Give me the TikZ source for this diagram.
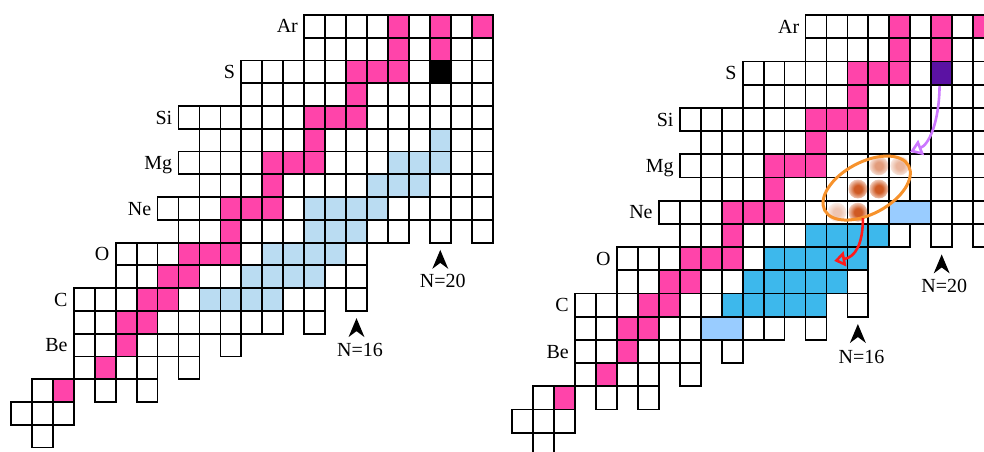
\documentclass[tikz,border=0pt]{standalone}
\usepackage{fontspec}
\setmainfont{Liberation Serif}
\usetikzlibrary{arrows.meta,fadings}
\definecolor{pinkc}{HTML}{FF44AA}
\definecolor{paleblue}{HTML}{BADCF2}
\definecolor{brightblue}{HTML}{3DB8EC}
\definecolor{lightblue}{HTML}{99CCFF}
\definecolor{violetc}{HTML}{5B12A3}
\definecolor{arrowviolet}{HTML}{CC77FF}
\definecolor{redc}{HTML}{FF1A1A}
\definecolor{orangec}{HTML}{F7922C}
\definecolor{dotc}{HTML}{CF5A24}
\pgfdeclareradialshading{fuzzyshade}{\pgfpointorigin}{color(0bp)=(white); color(10bp)=(white); color(32bp)=(black); color(50bp)=(black)}
\pgfdeclarefading{fuzzy}{\pgfuseshading{fuzzyshade}}

% #1 = Z, #2 = list of N, #3 = style
\newcommand\cellrow[3]{\foreach \n in {#2}{\path[#3] (\n,18-#1) rectangle ++(1,1);}}

\newcommand\chartbase{%
  \cellrow{18}{14,...,22}{cellw}
  \cellrow{17}{14,...,22}{cellw}
  \cellrow{16}{11,...,22}{cellw}
  \cellrow{15}{11,...,22}{cellw}
  \cellrow{14}{8,...,22}{cellw}
  \cellrow{13}{9,...,22}{cellw}
  \cellrow{12}{8,...,22}{cellw}
  \cellrow{11}{9,...,22}{cellw}
  \cellrow{10}{7,...,22}{cellw}
  \cellrow{9}{8,...,18,20,22}{cellw}
  \cellrow{8}{5,...,16}{cellw}
  \cellrow{7}{5,...,16}{cellw}
  \cellrow{6}{3,...,14,16}{cellw}
  \cellrow{5}{3,...,12,14}{cellw}
  \cellrow{4}{3,...,8,10}{cellw}
  \cellrow{3}{3,...,6,8}{cellw}
  \cellrow{2}{1,2,4,6}{cellw}
  \cellrow{1}{0,1,2}{cellw}
  \cellrow{0}{1}{cellw}
  % stable (pink)
  \cellrow{18}{18,20,22}{cellp}
  \cellrow{17}{18,20}{cellp}
  \cellrow{16}{16,17,18}{cellp}
  \cellrow{15}{16}{cellp}
  \cellrow{14}{14,15,16}{cellp}
  \cellrow{13}{14}{cellp}
  \cellrow{12}{12,13,14}{cellp}
  \cellrow{11}{12}{cellp}
  \cellrow{10}{10,11,12}{cellp}
  \cellrow{9}{10}{cellp}
  \cellrow{8}{8,9,10}{cellp}
  \cellrow{7}{7,8}{cellp}
  \cellrow{6}{6,7}{cellp}
  \cellrow{5}{5,6}{cellp}
  \cellrow{4}{5}{cellp}
  \cellrow{3}{4}{cellp}
  \cellrow{2}{2}{cellp}
}

% #1 = name prefix
\newcommand\chartlabels[1]{%
  \node[elem] (#1Ar) at (14-0.29,0.79) {Ar};
  \node[elem] (#1S)  at (11-0.29,2.79) {S};
  \node[elem] (#1Si) at (8-0.29,4.79) {Si};
  \node[elem] (#1Mg) at (8-0.29,6.79) {Mg};
  \node[elem] (#1Ne) at (7-0.29,8.79) {Ne};
  \node[elem] (#1O)  at (5-0.29,10.79) {O};
  \node[elem] (#1C)  at (3-0.29,12.79) {C};
  \node[elem] (#1Be) at (3-0.29,14.79) {Be};
  \node[nlab] (#1N16) at (16.67,15.0) {N=16};
  \node[nlab] (#1N20) at (20.62,11.98) {N=20};
  \fill (16.5,13.32) -- ++(-8pt,-19pt) -- ++(8pt,6pt) -- ++(8pt,-6pt) -- cycle;
  \fill (20.5,10.32) -- ++(-8pt,-19pt) -- ++(8pt,6pt) -- ++(8pt,-6pt) -- cycle;
}

\begin{document}
\begin{tikzpicture}[x=1pt,y=-1pt,
  cellw/.style={fill=white,draw=black,line width=1.8pt},
  cellp/.style={fill=pinkc,draw=black,line width=1.8pt},
  cellpb/.style={fill=paleblue,draw=black,line width=1.8pt},
  cellbb/.style={fill=brightblue,draw=black,line width=1.8pt},
  celllb/.style={fill=lightblue,draw=black,line width=1.8pt},
  cellk/.style={fill=black,draw=black,line width=1.8pt},
  cellv/.style={fill=violetc,draw=black,line width=1.8pt},
  elem/.style={anchor=base east,inner sep=0pt,font=\fontsize{20}{24}\selectfont},
  nlab/.style={anchor=base,inner sep=0pt,font=\fontsize{20}{24}\selectfont},
  fuzzydot/.style={fill=dotc,path fading=fuzzy},
  ringstyle/.style={draw=orangec,line width=3pt},
  parrow/.style={draw=arrowviolet,line width=2.6pt,-{Triangle[open,length=12pt,width=16pt]}},
  rarrow/.style={draw=redc,line width=2.6pt,-{Triangle[open,length=11pt,width=15pt]}}]
\useasboundingbox (0,0) rectangle (984,451);
\clip (0,0) rectangle (984,451);

% ---------------- left panel ----------------
\begin{scope}[shift={(11,15)},x={(20.94pt,0pt)},y={(0pt,-22.76pt)}]
  \chartbase
  \cellrow{13}{20}{cellpb}
  \cellrow{12}{18,19,20}{cellpb}
  \cellrow{11}{17,18,19}{cellpb}
  \cellrow{10}{14,...,17}{cellpb}
  \cellrow{9}{14,15,16}{cellpb}
  \cellrow{8}{12,...,15}{cellpb}
  \cellrow{7}{11,...,14}{cellpb}
  \cellrow{6}{9,...,12}{cellpb}
  \path[cellk] (20,2) rectangle ++(1,1);
  \chartlabels{L}
\end{scope}

% ---------------- right panel ----------------
\begin{scope}[shift={(512.2,15)},x={(20.95pt,0pt)},y={(0pt,-23.2pt)}]
  \chartbase
  \cellrow{9}{14,...,17}{cellbb}
  \cellrow{8}{12,...,16}{cellbb}
  \cellrow{7}{11,...,15}{cellbb}
  \cellrow{6}{10,...,14}{cellbb}
  \path[celllb] (18,8) rectangle ++(2,1);
  \path[celllb] (9,13) rectangle ++(2,1);
  \path[cellv] (20,2) rectangle ++(1,1);
  \chartlabels{R}
  % fuzzy dots
  \fill[fuzzydot,fill opacity=0.6] (17.5,6.5) circle (9.5pt);
  \fill[fuzzydot,fill opacity=0.45] (18.5,6.5) circle (9.5pt);
  \fill[fuzzydot] (16.5,7.5) circle (9.5pt);
  \fill[fuzzydot] (17.5,7.5) circle (9.5pt);
  \fill[fuzzydot,fill opacity=0.35] (15.5,8.5) circle (9.5pt);
  \fill[fuzzydot] (16.5,8.5) circle (9.5pt);
  % ring
  \coordinate (ellc) at (16.92,7.46);
  \draw[ringstyle,rotate around={28:(ellc)}] (ellc) ellipse [x radius=47.5pt,y radius=26pt];
  % arrows
  \coordinate (s36) at (20.4,3.06);
  \coordinate (ringin) at (18.99,5.9);
  \draw[parrow] (s36) .. controls (20.37,4.74) and (19.85,5.6) .. (ringin);
  \coordinate (ringout) at (16.74,8.75);
  \coordinate (bluein) at (15.37,10.6);
  \draw[rarrow] (ringout) .. controls (16.74,9.91) and (16.36,10.43) .. (bluein);
\end{scope}
\end{tikzpicture}
\end{document}
